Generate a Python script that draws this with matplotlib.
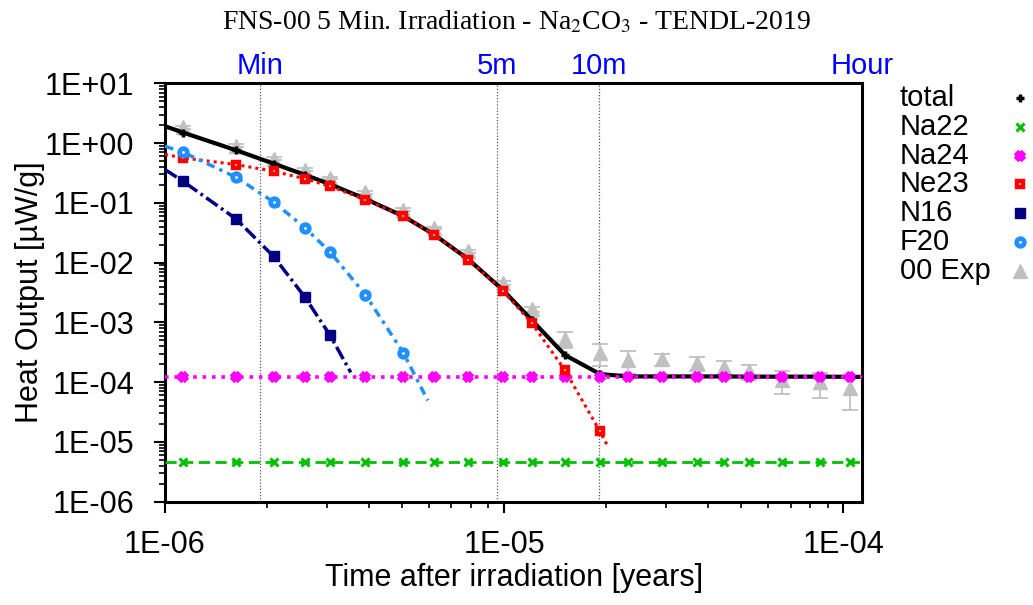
import numpy as np
import matplotlib.pyplot as plt
from matplotlib.lines import Line2D
from matplotlib.ticker import LogLocator, FuncFormatter, NullFormatter

plt.rcParams['font.family'] = ['Liberation Sans', 'DejaVu Sans']
plt.rcParams['mathtext.fontset'] = 'stix'

# cooling times of the measurements [years]
t_yr = [1.13e-6, 1.62e-6, 2.09e-6, 2.59e-6, 3.07e-6, 3.90e-6, 5.05e-6,
        6.22e-6, 7.85e-6, 9.95e-6, 1.207e-5, 1.513e-5, 1.919e-5, 2.326e-5,
        2.918e-5, 3.70e-5, 4.47e-5, 5.28e-5, 6.62e-5, 8.55e-5, 1.049e-4]

# experiment [uW/g] and its uncertainty
exp_val = [1.85, 0.915, 0.555, 0.363, 0.263, 0.151, 0.0776, 0.0383, 0.0155,
           4.58e-3, 1.68e-3, 5.3e-4, 3.09e-4, 2.32e-4, 2.45e-4, 2.09e-4,
           1.79e-4, 1.52e-4, 1.08e-4, 9.9e-5, 8.1e-5]
exp_err = [0.09, 0.046, 0.028, 0.018, 0.013, 0.0076, 0.0039, 0.0019, 9e-4,
           3.7e-4, 1.7e-4, 1.5e-4, 1.2e-4, 9.5e-5, 5.6e-5, 5.4e-5, 4.5e-5,
           4.5e-5, 4.4e-5, 4.4e-5, 4.7e-5]

# calculated heat output [uW/g]
total = [1.51, 0.764, 0.457, 0.295, 0.206, 0.117, 0.060, 0.0296, 0.0114,
         3.45e-3, 1.10e-3, 2.85e-4, 1.37e-4, 1.25e-4, 1.25e-4, 1.25e-4,
         1.25e-4, 1.24e-4, 1.24e-4, 1.24e-4, 1.23e-4]
na22 = [4.6e-6, 4.6e-6, 4.6e-6, 4.6e-6, 4.6e-6, 4.6e-6, 4.6e-6, 4.6e-6,
        4.6e-6, 4.6e-6, 4.6e-6, 4.6e-6, 4.6e-6, 4.6e-6, 4.6e-6, 4.6e-6,
        4.6e-6, 4.6e-6, 4.6e-6, 4.6e-6, 4.6e-6]
na24 = [1.2e-4, 1.2e-4, 1.2e-4, 1.2e-4, 1.2e-4, 1.2e-4, 1.2e-4, 1.2e-4,
        1.2e-4, 1.2e-4, 1.2e-4, 1.2e-4, 1.2e-4, 1.2e-4, 1.2e-4, 1.2e-4,
        1.2e-4, 1.2e-4, 1.2e-4, 1.2e-4, 1.2e-4]
ne23 = [0.569, 0.44, 0.34, 0.254, 0.19, 0.114, 0.0598, 0.0295, 0.0113,
        3.32e-3, 9.8e-4, 1.58e-4, 1.5e-5]
n16 = [0.231, 0.0542, 0.0128, 0.00263, 6.08e-4]
f20 = [0.708, 0.27, 0.104, 0.0383, 0.0151, 0.00292, 3.09e-4]

# curve values at the plot edges and where the short-lived curves stop
t_start = 1e-6
t_end = 1.1408e-4
total_start, total_end = 1.93, 1.23e-4
na22_start, na22_end = 4.6e-6, 4.6e-6
na24_start, na24_end = 1.2e-4, 1.2e-4
ne23_start, ne23_tail = 0.647, (2.03e-5, 8.2e-6)
n16_start, n16_tail = 0.363, (3.53e-6, 1.46e-4)
f20_start, f20_tail = 0.89, (5.96e-6, 4.95e-5)

# time marks along the top
mark_names = ['Min', '5m', '10m', 'Hour']
mark_minutes = [1, 5, 10, 60]
minute = 1.0 / (365.25 * 24 * 60)


def curve(values, start=None, tail=None, end=None):
    xs = list(t_yr[:len(values)])
    ys = list(values)
    if start is not None:
        xs = [t_start] + xs
        ys = [start] + ys
    if tail is not None:
        xs.append(tail[0])
        ys.append(tail[1])
    if end is not None:
        xs.append(t_end)
        ys.append(end)
    return xs, ys


fig = plt.figure(figsize=(10.33, 6.05), dpi=100)
ax = fig.add_axes([0.1597, 0.1707, 0.6752, 0.6913])

grey = '#c0c0c0'
green = '#00c000'
magenta = '#ff00ff'
red = '#ff0000'
navy = '#000080'
blue = '#1e90ff'

# marker styles, shared by the plot and the key
sty_total = dict(marker='+', color='black', ms=6, mew=2.5)
sty_na22 = dict(marker='x', color=green, ms=6, mew=2.2)
sty_na24 = dict(marker='x', color=magenta, ms=5.5, mew=4.5)
sty_ne23 = dict(marker='s', color=red, ms=5, mew=3.2, mfc='white', mec=red)
sty_n16 = dict(marker='s', color=navy, ms=6.5)
sty_f20 = dict(marker='o', color=blue, ms=5.5, mew=3.4, mfc='white', mec=blue)
sty_exp = dict(marker='^', color=grey, ms=9.5)

ax.errorbar(t_yr, exp_val, yerr=exp_err, fmt='^', color=grey, ms=9.5,
            mec=grey, ecolor=grey, elinewidth=1.3, capsize=6, capthick=1.3,
            zorder=1)

x, y = curve(total, start=total_start, end=total_end)
ax.plot(x, y, color='black', lw=3, zorder=2)
ax.plot(t_yr, total, ls='none', zorder=2, **sty_total)

x, y = curve(na22, start=na22_start, end=na22_end)
ax.plot(x, y, color=green, lw=2, ls=(0, (4, 2)), zorder=3)
ax.plot(t_yr, na22, ls='none', zorder=3, **sty_na22)

x, y = curve(na24, start=na24_start, end=na24_end)
ax.plot(x, y, color=magenta, lw=2.6, ls=(0, (1, 1.6)), zorder=3)
ax.plot(t_yr, na24, ls='none', zorder=3, **sty_na24)

x, y = curve(ne23, start=ne23_start, tail=ne23_tail)
ax.plot(x, y, color=red, lw=2.2, ls=(0, (1, 1.3)), zorder=4)
ax.plot(t_yr[:len(ne23)], ne23, ls='none', zorder=4, **sty_ne23)

x, y = curve(n16, start=n16_start, tail=n16_tail)
ax.plot(x, y, color=navy, lw=2.5, ls=(0, (4, 1.2, 0.8, 1.2)), zorder=4)
ax.plot(t_yr[:len(n16)], n16, ls='none', zorder=4, **sty_n16)

x, y = curve(f20, start=f20_start, tail=f20_tail)
ax.plot(x, y, color=blue, lw=2.5, ls=(0, (2.5, 1.5, 1, 1.5)), zorder=4)
ax.plot(t_yr[:len(f20)], f20, ls='none', zorder=4, **sty_f20)

ax.set_xscale('log')
ax.set_yscale('log')
ax.set_xlim(t_start, t_end)
ax.set_ylim(1e-6, 1e1)

# dotted lines and labels at 1 min, 5 min, 10 min, 1 hour
for name, m in zip(mark_names, mark_minutes):
    tm = m * minute
    if tm < t_end * 0.99:
        ax.axvline(tm, color='#555555', lw=0.9, ls=(0, (1, 1.5)), zorder=0)
    ax.text(tm, 1.008, name, transform=ax.get_xaxis_transform(),
            ha='center', va='bottom', color='#0000ff', fontsize=21)

fmt = FuncFormatter(lambda v, pos: '1E%+03d' % int(round(np.log10(v))))
ax.xaxis.set_major_locator(LogLocator(base=10, numticks=10))
ax.yaxis.set_major_locator(LogLocator(base=10, numticks=10))
ax.xaxis.set_minor_locator(LogLocator(base=10, subs=np.arange(2, 10), numticks=20))
ax.yaxis.set_minor_locator(LogLocator(base=10, subs=np.arange(2, 10), numticks=20))
ax.xaxis.set_major_formatter(fmt)
ax.yaxis.set_major_formatter(fmt)
ax.xaxis.set_minor_formatter(NullFormatter())
ax.yaxis.set_minor_formatter(NullFormatter())

ax.tick_params(which='major', direction='out', length=8, width=1.5,
               labelsize=22, top=False, right=False)
ax.tick_params(which='minor', direction='out', length=4, width=1.2,
               top=False, right=False)
ax.tick_params(axis='x', which='major', pad=12)
ax.tick_params(axis='y', which='major', pad=14)

for side in ['left', 'bottom', 'top', 'right']:
    ax.spines[side].set_linewidth(2.2)

ax.set_xlabel('Time after irradiation [years]', fontsize=22, va='center')
ax.set_ylabel('Heat Output [µW/g]', fontsize=22, va='center')
ax.xaxis.set_label_coords(0.5, -0.1824)
ax.yaxis.set_label_coords(-0.1935, 0.5)

fig.text(0.5, 1 - 22 / 605, r'FNS-00 5 Min. Irradiation - Na$_2$CO$_3$ - TENDL-2019',
         ha='center', va='center', fontsize=20, family='Liberation Serif')

# key: names on the left, point symbols in a column on the right
keys = [('total', sty_total), ('Na22', sty_na22), ('Na24', sty_na24),
        ('Ne23', sty_ne23), ('N16', sty_n16), ('F20', sty_f20),
        ('00 Exp', sty_exp)]
for i, (lab, sty) in enumerate(keys):
    yy = 1 - (98 + 28.8 * i) / 605
    fig.text(900 / 1033, yy, lab, ha='left', va='center', fontsize=21)
    fig.add_artist(Line2D([1020 / 1033], [yy], ls='none',
                          transform=fig.transFigure, **sty))

fig.savefig('out.png', dpi=100)
